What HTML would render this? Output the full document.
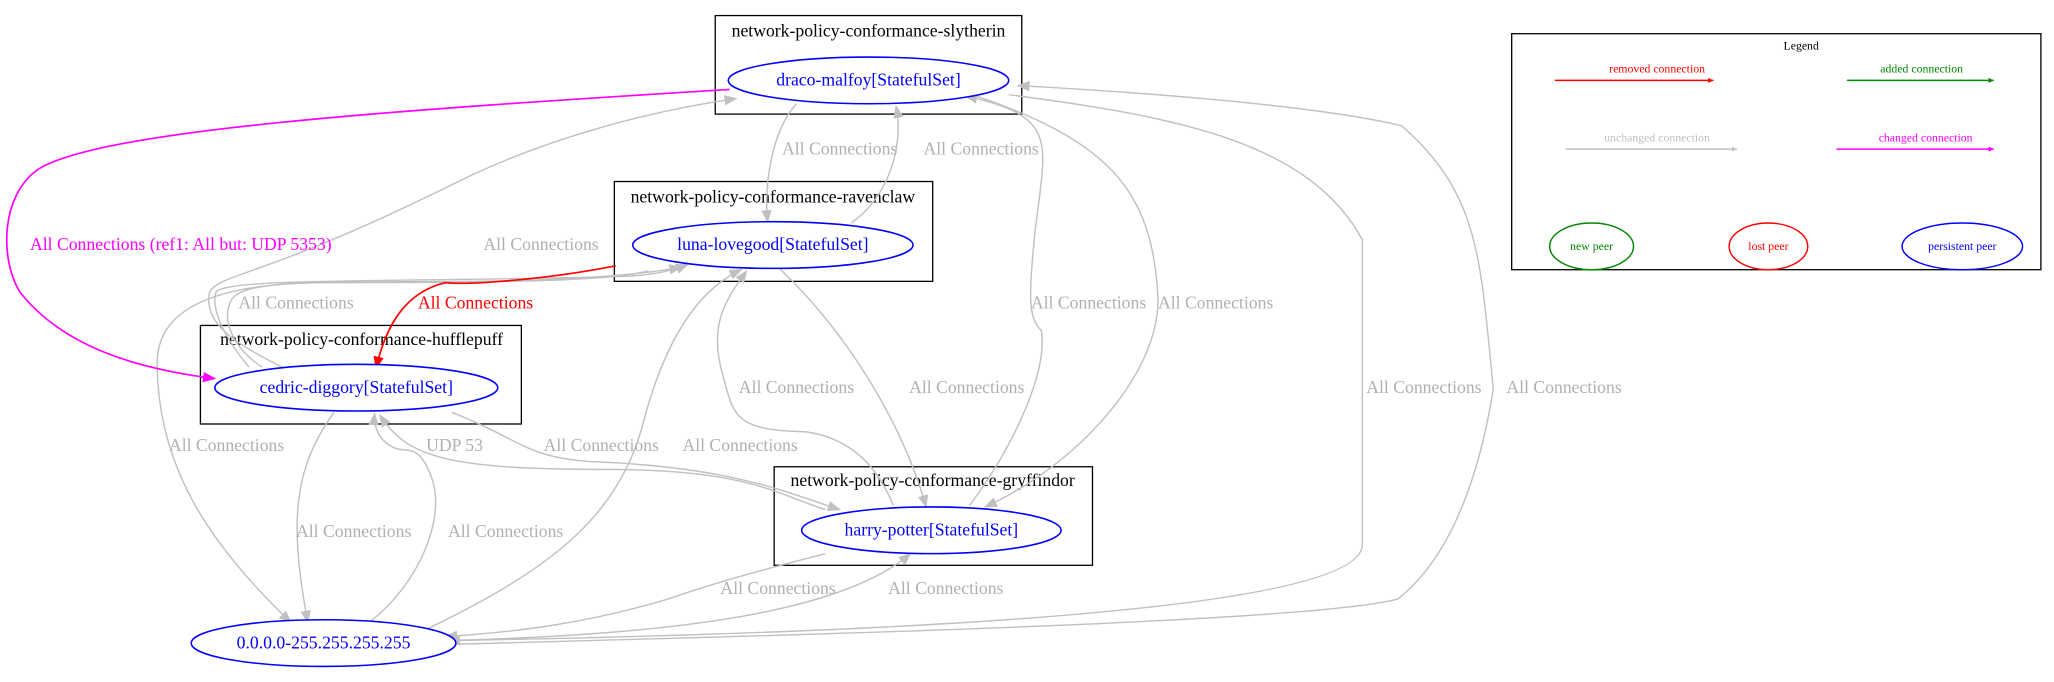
<!DOCTYPE html>
<html><head><meta charset="utf-8"><style>
html,body{margin:0;padding:0;background:#fff;}
svg{display:block;}
text{font-family:"Liberation Serif",serif;}
</style></head><body>
<svg width="2054" height="682" viewBox="0 0 1568 526" preserveAspectRatio="none" xmlns="http://www.w3.org/2000/svg">
<defs>
<marker id="g" markerWidth="10" markerHeight="8" refX="9" refY="4" orient="auto" markerUnits="userSpaceOnUse"><path d="M0,0 L10,4 L0,8 z" fill="#c0c0c0"/></marker>
<marker id="r" markerWidth="10" markerHeight="8" refX="9" refY="4" orient="auto" markerUnits="userSpaceOnUse"><path d="M0,0 L10,4 L0,8 z" fill="#f00"/></marker>
<marker id="m" markerWidth="10" markerHeight="8" refX="9" refY="4" orient="auto" markerUnits="userSpaceOnUse"><path d="M0,0 L10,4 L0,8 z" fill="#f0f"/></marker>
<marker id="ls" markerWidth="4" markerHeight="4" refX="4" refY="2" orient="auto" markerUnits="userSpaceOnUse"><path d="M0,0 L4,2 L0,4 z" fill="context-stroke"/></marker>
</defs>
<rect width="1568" height="526" fill="#fff"/>
<!-- clusters -->
<g fill="none" stroke="#000" stroke-width="1">
<rect x="546" y="12" width="234" height="76"/>
<rect x="469" y="140" width="243" height="77"/>
<rect x="153" y="251" width="245" height="76"/>
<rect x="591" y="360" width="243" height="76"/>
<rect x="1154" y="26" width="404" height="182"/>
</g>
<g font-size="13.5" text-anchor="middle" fill="#000">
<text x="663" y="28">network-policy-conformance-slytherin</text>
<text x="590" y="156">network-policy-conformance-ravenclaw</text>
<text x="276" y="266">network-policy-conformance-hufflepuff</text>
<text x="712" y="375">network-policy-conformance-gryffindor</text>
</g>
<!-- edges -->
<g fill="none" stroke="#c0c0c0" stroke-width="1.1" marker-end="url(#g)">
<path d="M608,80 C590,100 583,140 586,171"/>
<path d="M650,172 C680,150 690,110 684,82"/>
<path d="M215,283 C180,265 155,250 160,225 C170,210 200,215 350,140 C420,105 500,85 562,76"/>
<path d="M200,283 C180,270 170,250 175,235 C180,215 230,218 360,217 C440,216 490,212 520,206"/>
<path d="M190,283 C175,265 160,240 165,225 C175,214 300,218 480,213 C495,212 510,210 525,204"/>
<path d="M595,207 C650,260 690,330 707,391"/>
<path d="M740,390 C770,350 800,290 795,255 C785,245 785,230 790,180 C798,110 810,90 737,74"/>
<path d="M745,74 C850,110 880,150 884,230 C885,290 820,360 752,391"/>
<path d="M682,390 C670,360 650,338 615,333 C560,332 560,320 552,290 C540,250 555,230 570,209"/>
<path d="M495,209 C470,215 430,218 250,218 C160,218 120,240 120,280 C120,360 160,420 222,480"/>
<path d="M255,318 C225,360 220,400 235,480"/>
<path d="M283,479 C320,450 340,400 330,370 C320,340 310,350 300,345 C290,340 285,330 286,319"/>
<path d="M320,488 C420,440 470,400 490,330 C510,250 540,220 566,208"/>
<path d="M345,318 C400,340 400,352 450,356 C560,360 600,380 641,393"/>
<path d="M630,393 C590,380 570,362 460,362 C340,362 310,352 290,320"/>
<path d="M630,427 C560,445 530,455 510,462 C450,480 400,487 340,491"/>
<path d="M340,494 C500,490 640,475 695,427"/>
<path d="M770,73 C900,90 1000,110 1040,185 C1040,260 1040,380 1040,420 C1040,470 700,488 342,494"/>
<path d="M342,497 C600,490 1000,480 1067,462 C1120,420 1135,330 1140,300 C1130,200 1130,150 1070,97 C1000,80 850,70 777,66"/>
</g>
<path d="M470,205 C420,215 360,220 340,218 C310,225 295,250 287,284" fill="none" stroke="#f00" stroke-width="1.3" marker-end="url(#r)"/>
<path d="M557,69 C300,85 80,100 30,130 C0,150 0,200 15,225 C50,270 110,285 164,292" fill="none" stroke="#f0f" stroke-width="1.3" marker-end="url(#m)"/>
<!-- nodes -->
<g fill="#fff" stroke="#00f" stroke-width="1.2">
<ellipse cx="663" cy="62" rx="107" ry="18"/>
<ellipse cx="590" cy="189" rx="107" ry="18"/>
<ellipse cx="272" cy="299" rx="108" ry="18"/>
<ellipse cx="711" cy="409" rx="99" ry="18"/>
<ellipse cx="247" cy="496" rx="101" ry="18"/>
</g>
<g font-size="13.5" text-anchor="middle" fill="#00f">
<text x="663" y="66">draco-malfoy[StatefulSet]</text>
<text x="590" y="193">luna-lovegood[StatefulSet]</text>
<text x="272" y="303">cedric-diggory[StatefulSet]</text>
<text x="711" y="413">harry-potter[StatefulSet]</text>
<text x="247" y="500">0.0.0.0-255.255.255.255</text>
</g>
<!-- edge labels -->
<g font-size="13.5" text-anchor="middle" fill="#b0b0b0">
<text x="641" y="119">All Connections</text>
<text x="749" y="119">All Connections</text>
<text x="413" y="193">All Connections</text>
<text x="226" y="238">All Connections</text>
<text x="831" y="238">All Connections</text>
<text x="928" y="238">All Connections</text>
<text x="608" y="303">All Connections</text>
<text x="738" y="303">All Connections</text>
<text x="1087" y="303">All Connections</text>
<text x="1194" y="303">All Connections</text>
<text x="173" y="348">All Connections</text>
<text x="347" y="348">UDP 53</text>
<text x="459" y="348">All Connections</text>
<text x="565" y="348">All Connections</text>
<text x="270" y="414">All Connections</text>
<text x="386" y="414">All Connections</text>
<text x="594" y="458">All Connections</text>
<text x="722" y="458">All Connections</text>
</g>
<text x="138" y="193" font-size="13.5" text-anchor="middle" fill="#f0f">All Connections (ref1: All but: UDP 5353)</text>
<text x="363" y="238" font-size="13.5" text-anchor="middle" fill="#f00">All Connections</text>
<!-- legend -->
<g font-size="9" text-anchor="middle">
<text x="1375" y="38" fill="#000">Legend</text>
<text x="1265" y="56" fill="#f00">removed connection</text>
<text x="1467" y="56" fill="#080">added connection</text>
<text x="1265" y="109" fill="#c0c0c0">unchanged connection</text>
<text x="1470" y="109" fill="#f0f">changed connection</text>
</g>
<g stroke-width="1.2" marker-end="url(#ls)">
<line x1="1187" y1="62" x2="1308" y2="62" stroke="#f00"/>
<line x1="1410" y1="62" x2="1522" y2="62" stroke="#080"/>
<line x1="1195" y1="115" x2="1326" y2="115" stroke="#c0c0c0"/>
<line x1="1402" y1="115" x2="1522" y2="115" stroke="#f0f"/>
</g>
<g fill="none" stroke-width="1.1">
<ellipse cx="1215" cy="190" rx="32" ry="18" stroke="#080"/>
<ellipse cx="1350" cy="190" rx="30" ry="18" stroke="#f00"/>
<ellipse cx="1498" cy="190" rx="46" ry="18" stroke="#00f"/>
</g>
<g font-size="9" text-anchor="middle">
<text x="1215" y="193" fill="#080">new peer</text>
<text x="1350" y="193" fill="#f00">lost peer</text>
<text x="1498" y="193" fill="#00f">persistent peer</text>
</g>
</svg>
</body></html>
